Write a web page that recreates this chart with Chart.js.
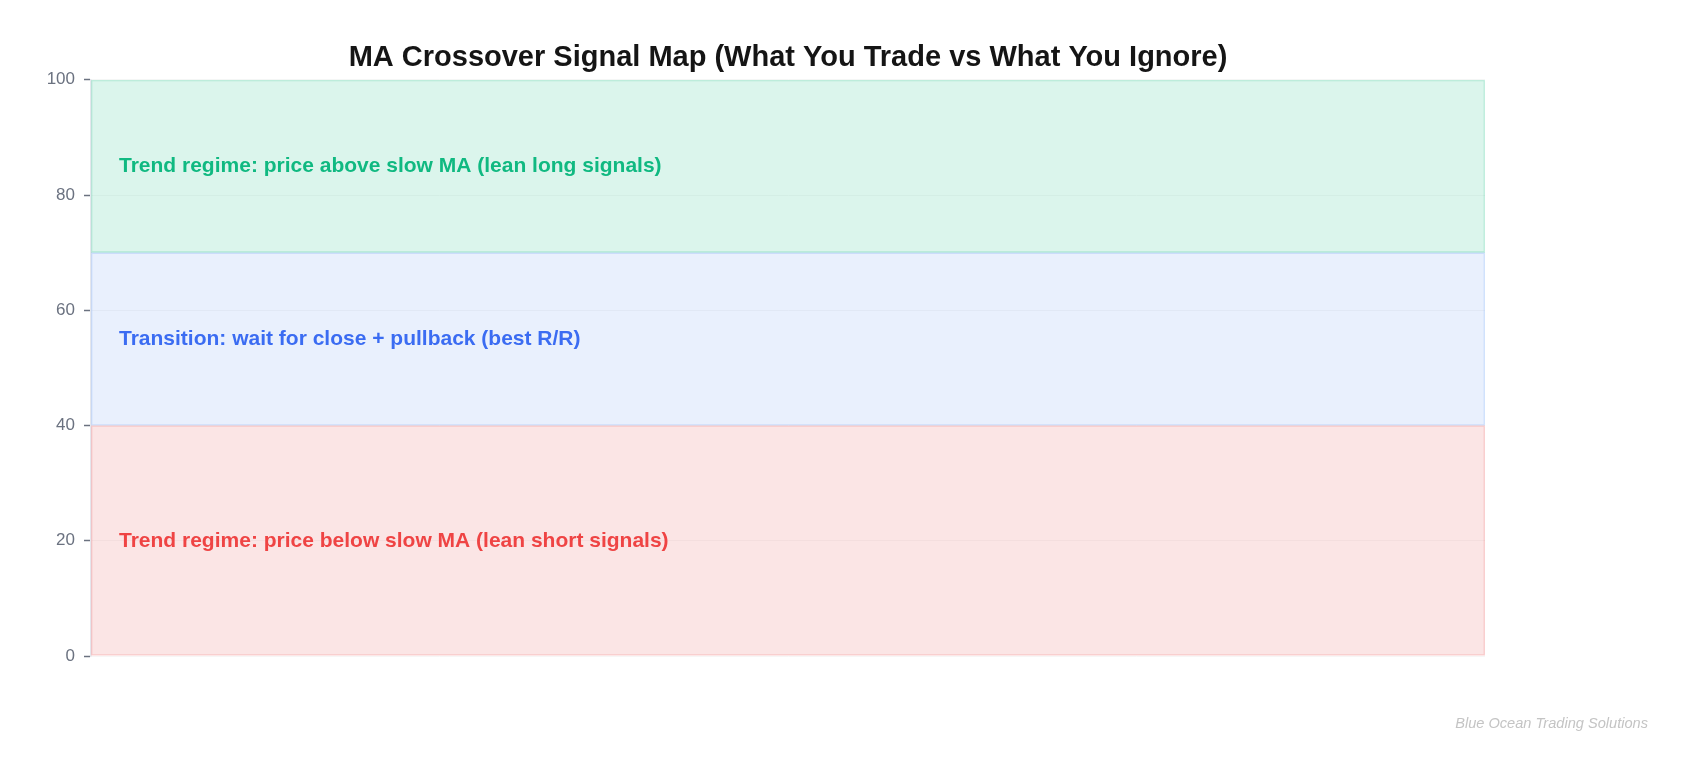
<!DOCTYPE html>
<html>
<head>
<meta charset="utf-8">
<title>MA Crossover Signal Map</title>
<script src="https://cdn.jsdelivr.net/npm/chart.js@4.4.1/dist/chart.umd.min.js"></script>
<style>
  html, body {
    margin: 0;
    padding: 0;
    background: #ffffff;
  }
  #wrap {
    position: relative;
    width: 1692px;
    height: 777px;
  }
  #watermark {
    position: absolute;
    right: 44px;
    top: 715px;
    font-family: "Liberation Sans", Arial, sans-serif;
    font-style: italic;
    font-size: 14.6px;
    color: #c4c4c4;
  }
</style>
</head>
<body>
<div id="wrap">
  <canvas id="signal-map"></canvas>
  <div id="watermark">Blue Ocean Trading Solutions</div>
</div>
<script>
const categories = ["Signal map"];
const bandNames = ["Bearish trend", "Transition", "Bullish trend"];
const bandLows = [0, 40, 70];
const bandHighs = [40, 70, 100];
const bandLabels = [
  "Trend regime: price below slow MA (lean short signals)",
  "Transition: wait for close + pullback (best R/R)",
  "Trend regime: price above slow MA (lean long signals)",
];
const labelValues = [20, 55, 85];
const yTicks = [0, 20, 40, 60, 80, 100];

const bandFills = ["rgba(220, 38, 38, 0.12)", "rgba(59, 120, 240, 0.11)", "rgba(16, 185, 129, 0.15)"];
const bandBorders = ["rgba(239, 68, 68, 0.22)", "rgba(59, 130, 246, 0.2)", "rgba(16, 185, 129, 0.22)"];
const textColors = ["#ef4444", "#3b6cf2", "#10b981"];

const FONT = "'Liberation Sans', Arial, Helvetica, sans-serif";

const bandTextPlugin = {
  id: "bandText",
  afterDatasetsDraw(chart) {
    const { ctx, chartArea, scales } = chart;
    ctx.save();
    ctx.font = `bold 21px ${FONT}`;
    ctx.textAlign = "left";
    ctx.textBaseline = "middle";
    bandLabels.forEach((text, i) => {
      ctx.fillStyle = textColors[i];
      ctx.fillText(text, chartArea.left + 28, scales.y.getPixelForValue(labelValues[i]));
    });
    ctx.restore();
  },
};

new Chart(document.getElementById("signal-map"), {
  type: "bar",
  data: {
    labels: categories,
    datasets: bandNames.map((name, i) => ({
      label: name,
      data: [[bandLows[i], bandHighs[i]]],
      backgroundColor: bandFills[i],
      borderColor: bandBorders[i],
      borderWidth: 1,
      borderSkipped: false,
      grouped: false,
      barPercentage: 1,
      categoryPercentage: 1,
    })),
  },
  options: {
    responsive: true,
    maintainAspectRatio: false,
    animation: false,
    layout: {
      padding: { top: 41, right: 207, bottom: 121, left: 0 },
    },
    plugins: {
      legend: { display: false },
      tooltip: { enabled: false },
      title: {
        display: true,
        text: "MA Crossover Signal Map (What You Trade vs What You Ignore)",
        fullSize: false,
        color: "#151515",
        font: { family: FONT, size: 29, weight: "bold", lineHeight: 1.2 },
        padding: { top: 0, bottom: 4 },
      },
    },
    scales: {
      x: {
        display: false,
      },
      y: {
        min: 0,
        max: 100,
        afterFit(scale) {
          scale.width = 91;
        },
        afterBuildTicks(scale) {
          scale.ticks = yTicks.map((value) => ({ value }));
        },
        border: { display: true, color: "#e4e6ec", width: 1.5 },
        grid: {
          color: "rgba(0, 0, 0, 0.035)",
          tickColor: "#6b7280",
          tickWidth: 1.5,
          tickLength: 7,
        },
        ticks: {
          color: "#6b7280",
          padding: 9,
          font: { family: FONT, size: 17 },
        },
      },
    },
  },
  plugins: [bandTextPlugin],
});
</script>
</body>
</html>
